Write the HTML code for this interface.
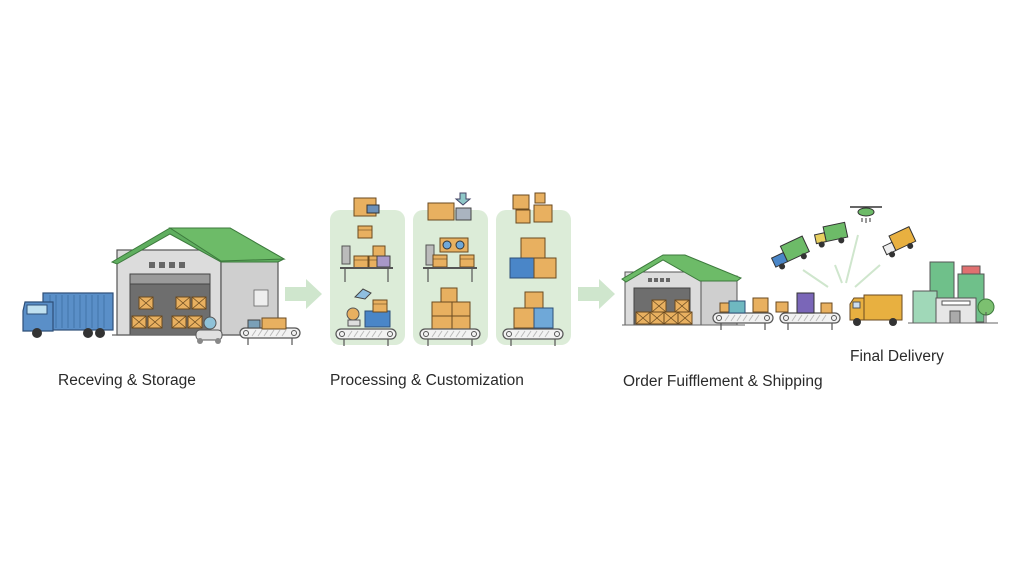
<!DOCTYPE html>
<html><head><meta charset="utf-8"><style>
html,body{margin:0;padding:0;background:#fff;}
svg{display:block}
text{font-family:"Liberation Sans","DejaVu Sans",sans-serif;fill:#2a2a2a}
</style></head><body>
<svg width="1024" height="585" viewBox="0 0 1024 585" xmlns="http://www.w3.org/2000/svg">
<defs>
<g id="box"><rect x="0" y="0" width="14" height="12" fill="#e8b060" stroke="#6a4a20" stroke-width="1"/><path d="M0 0L14 12M14 0L0 12" stroke="#6a4a20" stroke-width="0.8"/></g>
<g id="pbox"><rect x="0" y="0" width="14" height="12" fill="#e8b060" stroke="#6a4a20" stroke-width="1"/><line x1="0" y1="4" x2="14" y2="4" stroke="#6a4a20" stroke-width="0.6"/></g>
<g id="conv"><rect x="0" y="0" width="60" height="10" rx="5" fill="#f2f2f2" stroke="#555" stroke-width="1.2"/><circle cx="6" cy="5" r="2.5" fill="none" stroke="#555"/><circle cx="54" cy="5" r="2.5" fill="none" stroke="#555"/><path d="M12 8L16 2M18 8L22 2M24 8L28 2M30 8L34 2M36 8L40 2M42 8L46 2" stroke="#bbb"/><line x1="8" y1="10" x2="8" y2="17" stroke="#555" stroke-width="1.2"/><line x1="52" y1="10" x2="52" y2="17" stroke="#555" stroke-width="1.2"/></g>
</defs>
<rect width="1024" height="585" fill="#fff"/>

<!-- Warehouse 1 -->
<rect x="117" y="250" width="104" height="85" fill="#dcdcdc" stroke="#555" stroke-width="1.2"/>
<rect x="221" y="258" width="57" height="77" fill="#cfcfcf" stroke="#555" stroke-width="1.2"/>
<polygon points="112,262 170,228 230,228 284,259 278,262 221,262 170,234 117,264" fill="#5fae5f" stroke="#3d7a3d"/>
<polygon points="170,228 230,228 284,259 221,261" fill="#6dbb68" stroke="#3d7a3d"/>
<rect x="149" y="262" width="6" height="6" fill="#666"/><rect x="159" y="262" width="6" height="6" fill="#666"/><rect x="169" y="262" width="6" height="6" fill="#666"/><rect x="179" y="262" width="6" height="6" fill="#666"/>
<rect x="130" y="274" width="80" height="61" fill="#6e6e6e" stroke="#444"/>
<rect x="130" y="274" width="80" height="10" fill="#9a9a9a" stroke="#444"/>
<use href="#box" x="139" y="297" transform=""/><use href="#box" x="176" y="297"/><use href="#box" x="192" y="297"/>
<use href="#box" x="132" y="316"/><use href="#box" x="148" y="316"/><use href="#box" x="172" y="316"/><use href="#box" x="188" y="316"/>
<line x1="112" y1="335" x2="290" y2="335" stroke="#666" stroke-width="1.2"/>
<circle cx="210" cy="323" r="6" fill="#8fc2d8" stroke="#555"/>
<rect x="196" y="330" width="26" height="10" rx="4" fill="#e0e0e0" stroke="#555"/>
<circle cx="200" cy="341" r="3" fill="#888"/><circle cx="218" cy="341" r="3" fill="#888"/>
<rect x="254" y="290" width="14" height="16" fill="#eee" stroke="#666" stroke-width="0.8"/>
<use href="#conv" x="240" y="328" transform="scale(1)"/>
<rect x="262" y="318" width="24" height="11" fill="#e8b060" stroke="#6a4a20"/>
<rect x="248" y="320" width="12" height="8" fill="#7aa0b8" stroke="#444"/>

<!-- Truck 1 -->
<rect x="43" y="293" width="70" height="37" fill="#5a8fc8" stroke="#2e4f78" stroke-width="1.2"/>
<path d="M50 295v33M56 295v33M62 295v33M68 295v33M74 295v33M80 295v33M86 295v33M92 295v33M98 295v33M104 295v33" stroke="#3e6ea3" stroke-width="0.8"/>
<path d="M25 302h28v29h-30v-20z" fill="#5a8fc8" stroke="#2e4f78" stroke-width="1.2"/>
<rect x="27" y="305" width="20" height="9" fill="#bfe0f0" stroke="#2e4f78"/>
<circle cx="37" cy="333" r="5" fill="#333"/><circle cx="88" cy="333" r="5" fill="#333"/><circle cx="100" cy="333" r="5" fill="#333"/>

<!-- Arrows -->
<polygon points="285,287 306,287 306,279 322,294 306,309 306,301 285,301" fill="#cfe6cd"/>
<polygon points="578,287 599,287 599,279 615,294 599,309 599,301 578,301" fill="#cfe6cd"/>

<!-- Panels -->
<rect x="330" y="210" width="75" height="135" rx="10" fill="#dcecd8"/>
<rect x="413" y="210" width="75" height="135" rx="10" fill="#dcecd8"/>
<rect x="496" y="210" width="75" height="135" rx="10" fill="#dcecd8"/>

<!-- panel 1 -->
<rect x="354" y="198" width="22" height="18" fill="#e8b060" stroke="#6a4a20"/>
<rect x="367" y="205" width="12" height="8" fill="#6a8fb8" stroke="#333"/>
<use href="#pbox" x="358" y="226"/>
<rect x="342" y="246" width="8" height="18" fill="#bbb" stroke="#555"/>
<use href="#pbox" x="354" y="256"/><use href="#pbox" x="369" y="256"/>
<rect x="373" y="246" width="12" height="10" fill="#e8b060" stroke="#6a4a20"/>
<rect x="377" y="256" width="13" height="11" fill="#a898c8" stroke="#444"/>
<line x1="340" y1="268" x2="393" y2="268" stroke="#555" stroke-width="2"/>
<path d="M345 268v14M388 268v14" stroke="#555" stroke-width="1.2"/>
<path d="M355 297l8-8 8 4-6 6z" fill="#8fbfe0" stroke="#444"/>
<circle cx="353" cy="314" r="6" fill="#e8b060" stroke="#555"/>
<rect x="348" y="320" width="12" height="6" fill="#ddd" stroke="#555"/>
<rect x="365" y="311" width="25" height="16" fill="#4a86c8" stroke="#2e4f78"/>
<use href="#pbox" x="373" y="300"/>
<use href="#conv" x="336" y="329"/>

<!-- panel 2 -->
<rect x="428" y="203" width="26" height="17" fill="#e8b060" stroke="#6a4a20"/>
<rect x="456" y="208" width="15" height="12" fill="#aab4c0" stroke="#444"/>
<path d="M460 193h6v6h4l-7 6-7-6h4z" fill="#8fc8c8" stroke="#446"/>
<rect x="440" y="238" width="28" height="14" fill="#e8b060" stroke="#6a4a20"/>
<circle cx="447" cy="245" r="4" fill="#6fa8d8" stroke="#333"/><circle cx="460" cy="245" r="4" fill="#6fa8d8" stroke="#333"/>
<rect x="426" y="245" width="8" height="20" fill="#bbb" stroke="#555"/>
<use href="#pbox" x="433" y="255"/><use href="#pbox" x="460" y="255"/>
<line x1="423" y1="268" x2="477" y2="268" stroke="#555" stroke-width="2"/>
<path d="M428 268v14M472 268v14" stroke="#555" stroke-width="1.2"/>
<rect x="441" y="288" width="16" height="14" fill="#e8b060" stroke="#6a4a20"/>
<rect x="432" y="302" width="20" height="14" fill="#e8b060" stroke="#6a4a20"/>
<rect x="452" y="302" width="18" height="14" fill="#e8b060" stroke="#6a4a20"/>
<rect x="432" y="316" width="20" height="13" fill="#e8b060" stroke="#6a4a20"/>
<rect x="452" y="316" width="18" height="13" fill="#e8b060" stroke="#6a4a20"/>
<use href="#conv" x="420" y="329"/>

<!-- panel 3 -->
<rect x="513" y="195" width="16" height="14" fill="#e8b060" stroke="#6a4a20"/>
<rect x="516" y="210" width="14" height="13" fill="#e8b060" stroke="#6a4a20"/>
<rect x="535" y="193" width="10" height="10" fill="#e8b060" stroke="#6a4a20"/>
<rect x="534" y="205" width="18" height="17" fill="#e8b060" stroke="#6a4a20"/>
<rect x="521" y="238" width="24" height="20" fill="#e8b060" stroke="#6a4a20"/>
<rect x="510" y="258" width="24" height="20" fill="#4a86c8" stroke="#2e4f78"/>
<rect x="534" y="258" width="22" height="20" fill="#e8b060" stroke="#6a4a20"/>
<rect x="525" y="292" width="18" height="16" fill="#e8b060" stroke="#6a4a20"/>
<rect x="514" y="308" width="20" height="20" fill="#e8b060" stroke="#6a4a20"/>
<rect x="534" y="308" width="19" height="20" fill="#6fa8d8" stroke="#2e4f78"/>
<use href="#conv" x="503" y="329"/>

<!-- Warehouse 2 -->
<rect x="625" y="272" width="76" height="53" fill="#dcdcdc" stroke="#555"/>
<rect x="701" y="276" width="36" height="49" fill="#cfcfcf" stroke="#555"/>
<polygon points="622,279 663,255 685,255 741,278 737,281 700,281 663,260 626,282" fill="#6dbb68" stroke="#3d7a3d"/>
<rect x="648" y="278" width="4" height="4" fill="#666"/><rect x="654" y="278" width="4" height="4" fill="#666"/><rect x="660" y="278" width="4" height="4" fill="#666"/><rect x="666" y="278" width="4" height="4" fill="#666"/>
<rect x="634" y="288" width="56" height="37" fill="#6e6e6e" stroke="#444"/>
<use href="#box" x="652" y="300" transform=""/><use href="#box" x="675" y="300"/>
<use href="#box" x="636" y="312"/><use href="#box" x="650" y="312"/><use href="#box" x="664" y="312"/><use href="#box" x="678" y="312"/>
<line x1="622" y1="325" x2="745" y2="325" stroke="#666"/>
<use href="#conv" x="713" y="313"/><use href="#conv" x="780" y="313"/>
<rect x="720" y="303" width="9" height="9" fill="#e8b060" stroke="#6a4a20"/>
<rect x="729" y="301" width="16" height="12" fill="#6fb8c0" stroke="#2e4f78"/>
<rect x="753" y="298" width="15" height="14" fill="#e8b060" stroke="#6a4a20"/>
<rect x="776" y="302" width="12" height="10" fill="#e8b060" stroke="#6a4a20"/>
<rect x="797" y="293" width="17" height="20" fill="#7a66b8" stroke="#333"/>
<rect x="821" y="303" width="11" height="10" fill="#e8b060" stroke="#6a4a20"/>

<!-- Delivery lines -->
<path d="M803 270L828 287M835 265L842 283M858 235L846 283M880 265L855 287" stroke="#cfe6cd" stroke-width="2"/>
<!-- flying trucks -->
<g transform="rotate(-25 790 255)"><rect x="785" y="243" width="24" height="17" fill="#6dbb68" stroke="#333"/><rect x="772" y="250" width="13" height="10" fill="#4a86c8" stroke="#333"/><circle cx="778" cy="262" r="3" fill="#333"/><circle cx="802" cy="262" r="3" fill="#333"/></g>
<g transform="rotate(-12 833 235)"><rect x="825" y="225" width="22" height="15" fill="#6dbb68" stroke="#333"/><rect x="815" y="231" width="10" height="9" fill="#e8d060" stroke="#333"/><circle cx="820" cy="242" r="3" fill="#333"/><circle cx="840" cy="242" r="3" fill="#333"/></g>
<g transform="rotate(-25 900 243)"><rect x="893" y="232" width="22" height="16" fill="#e8b040" stroke="#333"/><rect x="883" y="239" width="10" height="9" fill="#eee" stroke="#333"/><circle cx="888" cy="250" r="3" fill="#333"/><circle cx="908" cy="250" r="3" fill="#333"/></g>
<!-- drone -->
<ellipse cx="866" cy="212" rx="8" ry="4" fill="#6dbb68" stroke="#333"/>
<path d="M850 207h32" stroke="#333" stroke-width="1.5"/>
<path d="M862 218v4M866 218v5M870 218v4" stroke="#333"/>
<!-- truck -->
<rect x="864" y="295" width="38" height="25" fill="#e8b040" stroke="#6a4a20"/>
<path d="M850 304l4-6h10v22h-14z" fill="#e8b040" stroke="#6a4a20"/>
<rect x="853" y="302" width="7" height="6" fill="#cde" stroke="#555"/>
<circle cx="857" cy="322" r="4" fill="#333"/><circle cx="893" cy="322" r="4" fill="#333"/>
<!-- buildings -->
<rect x="930" y="262" width="24" height="40" fill="#6fc08a" stroke="#555"/>
<rect x="958" y="274" width="26" height="48" fill="#6fc08a" stroke="#555"/>
<rect x="962" y="266" width="18" height="8" fill="#e07070" stroke="#555"/>
<rect x="913" y="291" width="24" height="32" fill="#a0d8b8" stroke="#555"/>
<rect x="936" y="298" width="40" height="25" fill="#e6e6e6" stroke="#555"/>
<rect x="942" y="301" width="28" height="4" fill="#fff" stroke="#555"/>
<rect x="950" y="311" width="10" height="12" fill="#aaa" stroke="#555"/>
<circle cx="986" cy="307" r="8" fill="#7cc070" stroke="#3d7a3d"/>
<line x1="986" y1="312" x2="986" y2="323" stroke="#555"/>
<line x1="908" y1="323" x2="998" y2="323" stroke="#666"/>

<!-- labels -->
<text x="58" y="385" font-size="15.5">Receving &amp; Storage</text>
<text x="330" y="385" font-size="15.5">Processing &amp; Customization</text>
<text x="623" y="386" font-size="15.5">Order Fuifflement &amp; Shipping</text>
<text x="850" y="361" font-size="15.5">Final Delivery</text>
</svg>
</body></html>
